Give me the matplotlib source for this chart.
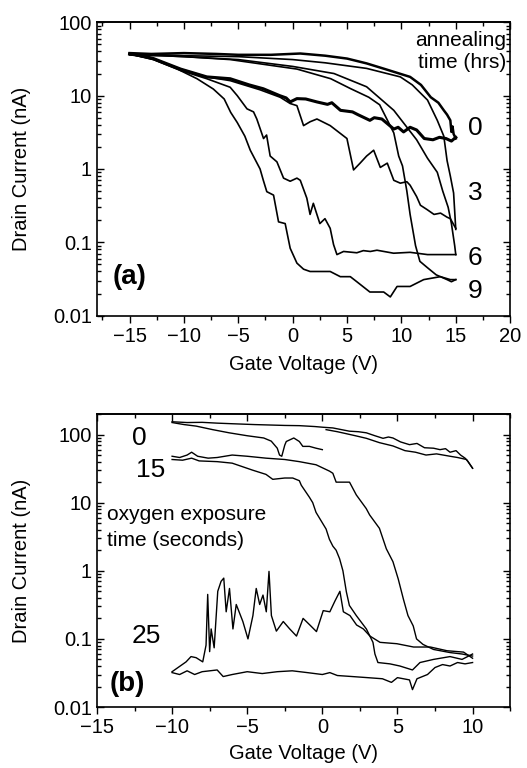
import matplotlib
matplotlib.use('Agg')

import matplotlib.pyplot as plt
from matplotlib.ticker import MultipleLocator, LogLocator, FuncFormatter, NullFormatter

plt.rcParams['font.family'] = ['Liberation Sans', 'DejaVu Sans']

# ---------------- panel (a): annealing time ----------------
# upper branches (switch at high gate voltage)
u0_v = [-15, -13, -10, -7, -5, -2, 0.7, 3, 5, 6.8, 8.5, 10.8, 11.8, 12.7, 13.4, 13.9, 14.2, 14.5, 14.6, 14.7, 14.8, 15]
u0_i = [38, 37, 38, 37, 36, 36, 37.5, 35, 32, 27.5, 23, 18, 14, 9.5, 8, 6.3, 5.5, 4.6, 3.2, 3.8, 3.0, 2.6]

u3_v = [-15, -12, -10, -5, 0, 3, 6.8, 9.9, 11, 12.4, 13.3, 13.9, 14.2, 14.5, 14.8, 15]
u3_i = [37, 36, 35, 34, 31, 28, 23.5, 18, 14, 8.7, 4.6, 2.8, 1.3, 0.8, 0.47, 0.15]

u6_v = [-15, -12, -10, -5, 0, 3.8, 6.8, 9.3, 11.4, 12.4, 13.3, 13.8, 14.3, 14.6, 14.9, 15]
u6_i = [36, 35, 34, 31, 25, 20, 13.2, 6.3, 2.5, 1.4, 0.9, 0.5, 0.3, 0.18, 0.09, 0.068]

u9_v = [-15, -12, -10, -5.75, 0.4, 3.5, 5.3, 7, 8.0, 9.3, 9.75, 10.1, 10.5, 10.8, 11.3, 11.7, 12.4, 13.2, 14.2, 14.6, 15]
u9_i = [36, 35, 34, 31, 23, 17, 12.5, 9.5, 7.5, 3.1, 1.5, 1.1, 0.5, 0.24, 0.09, 0.055, 0.045, 0.036, 0.031, 0.029, 0.031]

# lower branches
l0_v = [-15, -13.5, -12.8, -10.3, -7.9, -5.75, -4, -2.7, -1.2, -0.6, -0.23, 0.39, 1.2, 2.23, 3.2, 3.6, 4.4,
        5.5, 6.0, 7.1, 7.5, 8.2, 9.3, 9.7, 10.2, 10.8, 11.4, 12.1, 12.9, 13.5, 14.1, 14.6, 15]
l0_i = [37, 34, 32, 23, 18, 17, 14, 12.4, 10, 9.3, 8.2, 9.1, 9, 8.2, 7.6, 8.0, 6.3,
        6, 5.5, 4.6, 5.0, 4.8, 3.5, 3.7, 3.2, 3.7, 3.4, 2.6, 2.5, 2.7, 2.6, 2.4, 2.7]

l3_v = [-15, -12.8, -10.3, -7.9, -5.75, -3, -1.15, -0.23, 0.39, 1.0, 1.6, 2.23, 3.45, 4.99, 5.6, 6.2, 6.8,
        7.45, 8.06, 8.7, 9.3, 9.9, 10.5, 10.8, 11.4, 11.75, 12.35, 13.0, 13.6, 14.2, 14.5, 15]
l3_i = [37, 32, 23, 18, 16, 12, 9.5, 7.8, 7.3, 3.9, 4.4, 4.8, 3.9, 2.6, 0.97, 1.2, 1.5,
        1.8, 1.05, 1.2, 0.7, 0.64, 0.67, 0.6, 0.42, 0.32, 0.28, 0.24, 0.25, 0.22, 0.21, 0.155]

l6_v = [-15, -12.8, -10.3, -7.9, -5.75, -5.1, -4.2, -3.6, -3.3, -2.68, -2.4, -2.07, -1.45, -0.84, -0.23,
        0.39, 0.7, 1.3, 1.6, 1.9, 2.5, 2.97, 3.45, 3.76, 4.07, 4.68, 5.9, 6.5, 7.14, 7.75, 9.28, 10.8, 12.4, 15]
l6_i = [37, 31, 22, 17, 13, 10, 6.6, 6, 4.8, 2.6, 2.9, 1.5, 1.25, 0.75, 0.68,
        0.75, 0.7, 0.4, 0.24, 0.34, 0.18, 0.21, 0.155, 0.093, 0.068, 0.075, 0.072, 0.077, 0.075, 0.078, 0.071, 0.073, 0.068, 0.068]

l9_v = [-15, -12.8, -10.6, -8.8, -7.3, -6.3, -5.7, -5.1, -4.4, -3.9, -3.0, -2.7, -2.38, -1.76, -1.3, -0.69,
        -0.23, 0.39, 1.0, 1.6, 3.45, 4.38, 5.3, 5.9, 7.1, 8.37, 8.98, 9.6, 10.8, 12.05, 13.58, 14.5, 15]
l9_i = [37, 31, 23, 17, 12.3, 9, 5.9, 4.3, 2.8, 1.8, 1.0, 0.7, 0.49, 0.44, 0.19, 0.18,
        0.083, 0.052, 0.043, 0.04, 0.04, 0.034, 0.034, 0.029, 0.021, 0.021, 0.018, 0.025, 0.025, 0.031, 0.034, 0.031, 0.031]

anneal_labels = ['0', '3', '6', '9']
anneal_label_i = [3.6, 0.47, 0.062, 0.022]

# ---------------- panel (b): oxygen exposure ----------------
a0_v = [-10, -9, -8, -7, -5.98, -4.5, -3.5, -2.5, -1.53, -0.5, 0.03, 0.7, 1.8, 2.4, 2.93, 3.5, 4.04, 4.4, 4.7,
        5.2, 5.8, 6.3, 6.8, 7.4, 7.83, 8.2, 8.5, 8.9, 9.2, 9.5, 9.7, 10]
a0_i = [154, 150, 151, 147, 144, 140, 138, 136, 135, 131, 128, 125, 112, 110, 106, 96, 88, 92, 89,
        78, 71, 74, 64, 63, 60, 62, 55, 58, 50, 45, 40, 32]

b0a_v = [-10, -9.2, -8.4, -7.3, -6.2, -5, -3.9, -3.4, -3.0, -2.85, -2.7, -2.5, -2.4, -1.9, -1.53, -1.3, -0.86, -0.42, 0]
b0a_i = [150, 140, 133, 118, 106, 96, 89, 80, 63, 50, 48, 70, 79, 89, 79, 67, 67, 63, 60]

b0b_v = [0.25, 1.0, 1.5, 2.2, 2.93, 3.8, 4.7, 5.5, 6.2, 6.9, 7.6, 8.5, 9.0, 9.6, 10]
b0b_i = [118, 110, 104, 96, 88, 76, 68, 58, 55, 50, 52, 48, 46, 43, 32]

c15_v = [-10, -9.5, -9, -8.7, -8.3, -7.6, -7, -6, -5, -3.75, -2.5, -1.53, -0.42, 0.48, 0.7, 0.92, 1.81, 2.26, 2.92,
         3.15, 3.8, 4.26, 4.7, 5.05, 5.4, 5.7, 6.05, 6.27, 6.7, 7.4, 8.5, 9.3, 10]
c15_i = [48, 46, 50, 55, 48, 45, 46, 50, 48, 45, 43, 40, 36, 29, 27, 20, 20, 13, 8.2,
         6.6, 4.2, 2.1, 1.36, 0.76, 0.38, 0.22, 0.155, 0.1, 0.083, 0.07, 0.063, 0.06, 0.056]

d15_v = [-10, -9.3, -8.7, -8.2, -7, -6, -4.64, -3.75, -3.3, -2.5, -1.97, -1.53, -1.4, -0.86, -0.64, -0.42, 0.25,
         0.47, 0.7, 0.92, 1.15, 1.37, 1.6, 1.8, 2.26, 2.93, 3.37, 3.5, 3.7, 4.5, 5.16, 6.0, 6.5, 7.4, 8.5, 9.3, 10]
d15_i = [43, 42, 45, 41, 40, 38, 30, 26, 22, 23, 23, 21, 18, 12, 10, 7.2, 4.1,
         2.9, 2.3, 2.0, 1.5, 1.0, 0.49, 0.31, 0.22, 0.14, 0.089, 0.06, 0.045, 0.043, 0.04, 0.035, 0.045, 0.05, 0.055, 0.05, 0.06]

e25_v = [-10, -9.07, -8.74, -8.4, -7.96, -7.74, -7.63, -7.5, -7.4, -7.2, -6.96, -6.74, -6.56, -6.4, -6.18, -5.95,
         -5.73, -5.29, -4.95, -4.62, -4.4, -4.17, -3.95, -3.73, -3.55, -3.39, -3.06, -2.6, -2.17, -1.72, -1.28,
         -0.83, -0.39, 0.06, 0.5, 0.84, 1.17, 1.4, 1.84, 2.28, 2.73, 3.17, 3.84, 4.96, 6.07, 7.19, 8.3, 9.4, 10]
e25_i = [0.033, 0.046, 0.055, 0.053, 0.046, 0.081, 0.45, 0.065, 0.14, 0.074, 0.5, 0.7, 0.78, 0.25, 0.55, 0.14,
         0.32, 0.18, 0.1, 0.22, 0.55, 0.32, 0.44, 0.25, 0.98, 0.22, 0.13, 0.18, 0.14, 0.11, 0.2,
         0.16, 0.128, 0.26, 0.25, 0.36, 0.5, 0.25, 0.22, 0.16, 0.14, 0.11, 0.089, 0.085, 0.076, 0.076, 0.067, 0.064, 0.052]

f25_v = [-10, -9.5, -9, -8.5, -8, -7, -6.6, -6, -5, -4, -3, -2, -1, 0, 0.5, 1, 2, 3, 4, 4.6, 5, 5.8, 6, 6.3,
         7, 7.5, 8, 8.5, 9, 9.5, 10]
f25_i = [0.032, 0.03, 0.034, 0.03, 0.033, 0.035, 0.028, 0.03, 0.033, 0.031, 0.033, 0.034, 0.032, 0.03, 0.032,
         0.029, 0.028, 0.027, 0.026, 0.023, 0.027, 0.025, 0.018, 0.026, 0.03, 0.038, 0.042, 0.04, 0.045, 0.043, 0.045]

oxygen_labels = ['0', '15', '25']
oxygen_label_v = [-12.2, -11.4, -11.7]
oxygen_label_i = [90, 30, 0.11]


def style_axis(ax, xmin, xmax, ymin, ymax):
    ax.set_yscale('log')
    ax.set_xlim(xmin, xmax)
    ax.set_ylim(ymin, ymax)
    ax.xaxis.set_major_locator(MultipleLocator(5))
    ax.xaxis.set_minor_locator(MultipleLocator(2.5))
    ax.yaxis.set_major_locator(LogLocator(base=10, numticks=10))
    ax.yaxis.set_minor_locator(LogLocator(base=10, subs=range(2, 10), numticks=10))
    ax.yaxis.set_major_formatter(FuncFormatter(lambda v, p: '%g' % v))
    ax.yaxis.set_minor_formatter(NullFormatter())
    ax.tick_params(which='both', right=True, width=1.0, labelsize=14.5)
    ax.tick_params(which='major', length=5)
    ax.tick_params(which='minor', length=3)
    ax.tick_params(axis='y', which='both', direction='in')
    ax.tick_params(axis='x', which='both', direction='out', pad=3)
    for spine in ax.spines.values():
        spine.set_linewidth(1.2)

    # top ticks point inward while bottom ticks point outward
    top = ax.secondary_xaxis('top')
    top.xaxis.set_major_locator(MultipleLocator(5))
    top.xaxis.set_minor_locator(MultipleLocator(2.5))
    top.tick_params(which='both', direction='in', width=1.0, labeltop=False)
    top.tick_params(which='major', length=5)
    top.tick_params(which='minor', length=3)
    top.spines['top'].set_linewidth(1.2)

    ax.set_xlabel('Gate Voltage (V)', fontsize=14.5)
    ax.set_ylabel('Drain Current (nA)', fontsize=14.5)
    ax.yaxis.set_label_coords(-0.16, 0.5)


fig = plt.figure(figsize=(5.27, 7.68), dpi=100)

ax1 = fig.add_axes([0.184, 0.589, 0.784, 0.382])
style_axis(ax1, -18, 20, 0.01, 100)
ax1.xaxis.set_label_coords(0.5, -0.135)

for v, i in [(u3_v, u3_i), (u6_v, u6_i), (u9_v, u9_i), (l3_v, l3_i), (l6_v, l6_i), (l9_v, l9_i)]:
    ax1.plot(v, i, color='black', lw=1.2)
ax1.plot(u0_v, u0_i, color='black', lw=1.8)
ax1.plot(l0_v, l0_i, color='black', lw=2.2)

ax1.text(19.6, 56, 'annealing', ha='right', va='center', fontsize=15)
ax1.text(19.6, 28, 'time (hrs)', ha='right', va='center', fontsize=15)
for lab, y in zip(anneal_labels, anneal_label_i):
    ax1.text(16.8, y, lab, ha='center', va='center', fontsize=19)
ax1.text(-15, 0.034, '(a)', ha='center', va='center', fontsize=20, fontweight='bold')

ax2 = fig.add_axes([0.184, 0.0794, 0.784, 0.3815])
style_axis(ax2, -15, 12.5, 0.01, 200)
ax2.xaxis.set_label_coords(0.5, -0.125)

for v, i in [(a0_v, a0_i), (b0a_v, b0a_i), (b0b_v, b0b_i), (c15_v, c15_i), (d15_v, d15_i),
             (e25_v, e25_i), (f25_v, f25_i)]:
    ax2.plot(v, i, color='black', lw=1.0)

for lab, x, y in zip(oxygen_labels, oxygen_label_v, oxygen_label_i):
    ax2.text(x, y, lab, ha='center', va='center', fontsize=19)
ax2.text(-14.3, 6.6, 'oxygen exposure', ha='left', va='center', fontsize=15)
ax2.text(-14.3, 2.8, 'time (seconds)', ha='left', va='center', fontsize=15)
ax2.text(-13.0, 0.022, '(b)', ha='center', va='center', fontsize=20, fontweight='bold')

fig.savefig('out.png', dpi=100, facecolor='white')
plt.close(fig)
